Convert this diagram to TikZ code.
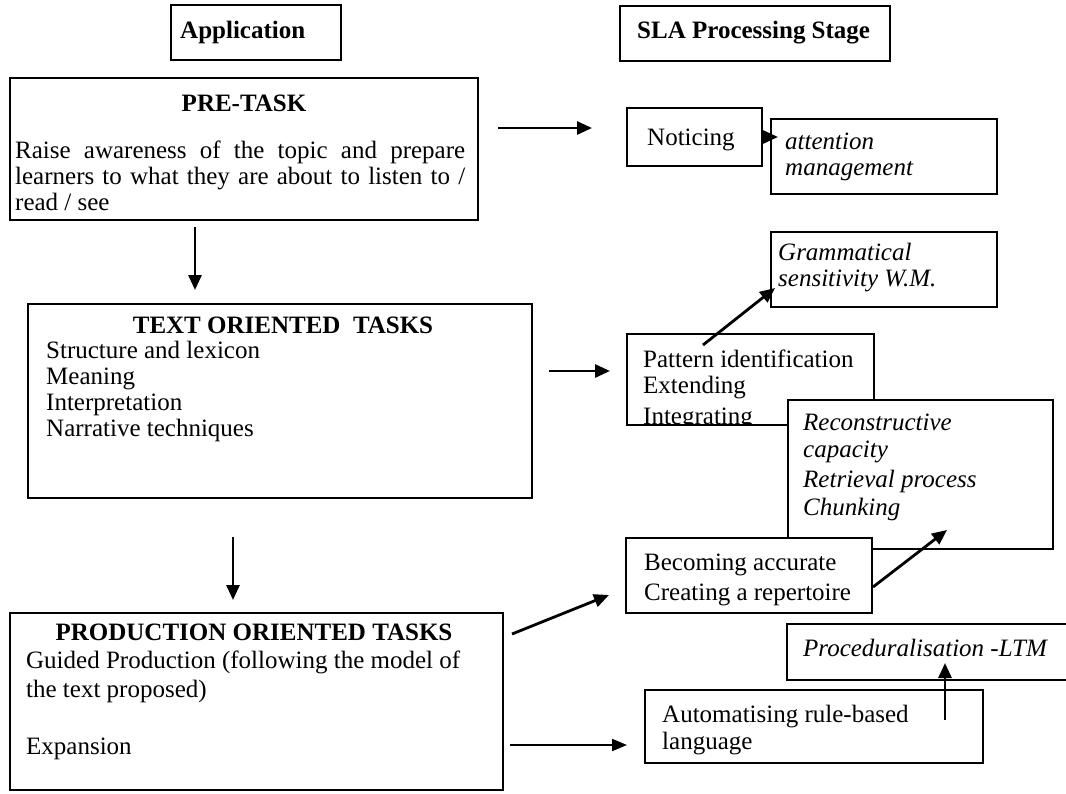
\documentclass[tikz,border=0pt]{standalone}
\usepackage{fontspec}
\setmainfont{Liberation Serif}
\usetikzlibrary{arrows.meta,calc}
\newcommand\mkbox[5]{\node[box, minimum width={#4-#2}, minimum height={#5-#3}] (#1) at ({(#2+#4)/2},{(#3+#5)/2}) {};}
\begin{document}
\begin{tikzpicture}[x=1pt,y=-1pt,
  box/.style={draw, line width=1.6pt, fill=white, inner sep=0pt, outer sep=0pt},
  txt/.style={inner sep=0pt, anchor=base west, font=\fontsize{25}{30}\selectfont},
  itxt/.style={txt, font=\fontsize{25}{30}\selectfont\itshape},
  hd/.style={inner sep=0pt, anchor=base, font=\fontsize{25}{30}\selectfont\bfseries},
  hdw/.style={hd, anchor=base west},
  arr/.style={line width=2.8pt, -{Triangle[length=15pt,width=13pt]}},
  arrthin/.style={line width=2pt, -{Triangle[length=15pt,width=12pt]}},
]
\useasboundingbox (0,0) rectangle (1066,793);

% header boxes
\mkbox{app}{171}{5}{341}{60}
\node[hdw] (apptxt) at (180,38) {Application};
\mkbox{sla}{620}{6}{890}{61}
\node[hdw] (slatxt) at (637,38) {SLA Processing Stage};

% left column
\mkbox{pre}{10}{78}{478}{220}
\node[hd] (pretitle) at (244,111) {PRE-TASK};
\node[txt] (pre1) at (15,158) {\makebox[450pt][s]{Raise awareness of the topic and prepare}};
\node[txt] (pre2) at (15,184) {\makebox[450pt][s]{learners to what they are about to listen to /}};
\node[txt] (pre3) at (15,210) {read / see};

\mkbox{text}{28}{304}{532}{498}
\node[hd] (texttitle) at (283,333) {TEXT ORIENTED \ TASKS};
\node[txt] (text1) at (46,358) {Structure and lexicon};
\node[txt] (text2) at (46,384) {Meaning};
\node[txt] (text3) at (46,410) {Interpretation};
\node[txt] (text4) at (46,436) {Narrative techniques};

\mkbox{prod}{10}{613}{503}{790}
\node[hd] (prodtitle) at (254,640) {PRODUCTION ORIENTED TASKS};
\node[txt] (prod1) at (26,668) {Guided Production (following the model of};
\node[txt] (prod2) at (26,697) {the text proposed)};
\node[txt] (prod3) at (26,754) {Expansion};

% right column
\mkbox{notice}{627}{108}{762}{166}
\node[txt] (noticetxt) at (647,145) {Noticing};
\mkbox{att}{771}{119}{997}{194}
\node[itxt] (att1) at (785,149) {attention};
\node[itxt] (att2) at (785,175) {management};

\mkbox{gram}{771}{232}{997}{307}
\node[itxt] (gram1) at (778,260) {Grammatical};
\node[itxt] (gram2) at (778,286) {sensitivity W.M.};

\mkbox{pat}{627}{334}{874}{425}
\begin{scope}
  \clip (pat.north west) rectangle (pat.south east);
  \node[txt] (pat1) at (643,367) {Pattern identification};
  \node[txt] (pat2) at (643,393) {Extending};
  \node[txt] (pat3) at (643,424) {Integrating};
\end{scope}

\mkbox{rec}{788}{400}{1053}{549}
\node[itxt] (rec1) at (803,430) {Reconstructive};
\node[itxt] (rec2) at (803,457) {capacity};
\node[itxt] (rec3) at (803,487) {Retrieval process};
\node[itxt] (rec4) at (803,515) {Chunking};

\mkbox{bec}{626}{538}{872}{613}
\node[txt] (bec1) at (644,570) {Becoming accurate};
\node[txt] (bec2) at (644,600) {Creating a repertoire};

\mkbox{proc}{787}{624}{1080}{680}
\node[itxt] (proctxt) at (803,656) {Proceduralisation -LTM};

\mkbox{auto}{645}{690}{983}{763}
\node[txt] (auto1) at (662,722) {Automatising rule-based};
\node[txt] (auto2) at (662,749) {language};

% connectors
\draw[arr] ($(pre.east)+(20,-21)$) -- ($(notice.west)+(-35,-9)$);
\draw[arr] ($(pre.south west)+(185,7)$) -- ($(text.north west)+(167,-14)$);
\draw[arr] ($(text.south west)+(205,39)$) -- ($(prod.north west)+(223,-13)$);
\draw[arr] ($(text.east)+(17,-30)$) -- ($(pat.west)+(-17,-8.5)$);
\draw[arr] ($(pat.north west)+(76,11)$) -- ($(gram.south west)+(4,-19)$);
\draw[arr] (notice.east) -- ($(att.west)+(7,-19.5)$);
\draw[arr] ($(prod.north east)+(9,21)$) -- ($(bec.south west)+(-17,-18)$);
\draw[arr] ($(bec.east)+(1,11.5)$) -- ($(rec.south west)+(159,-19)$);
\draw[arrthin] ($(prod.east)+(7,43.5)$) -- ($(auto.west)+(-18,18.5)$);
\draw[arr] ($(auto.north west)+(300,30)$) -- ($(proc.south west)+(158,-17)$);
\end{tikzpicture}
\end{document}
